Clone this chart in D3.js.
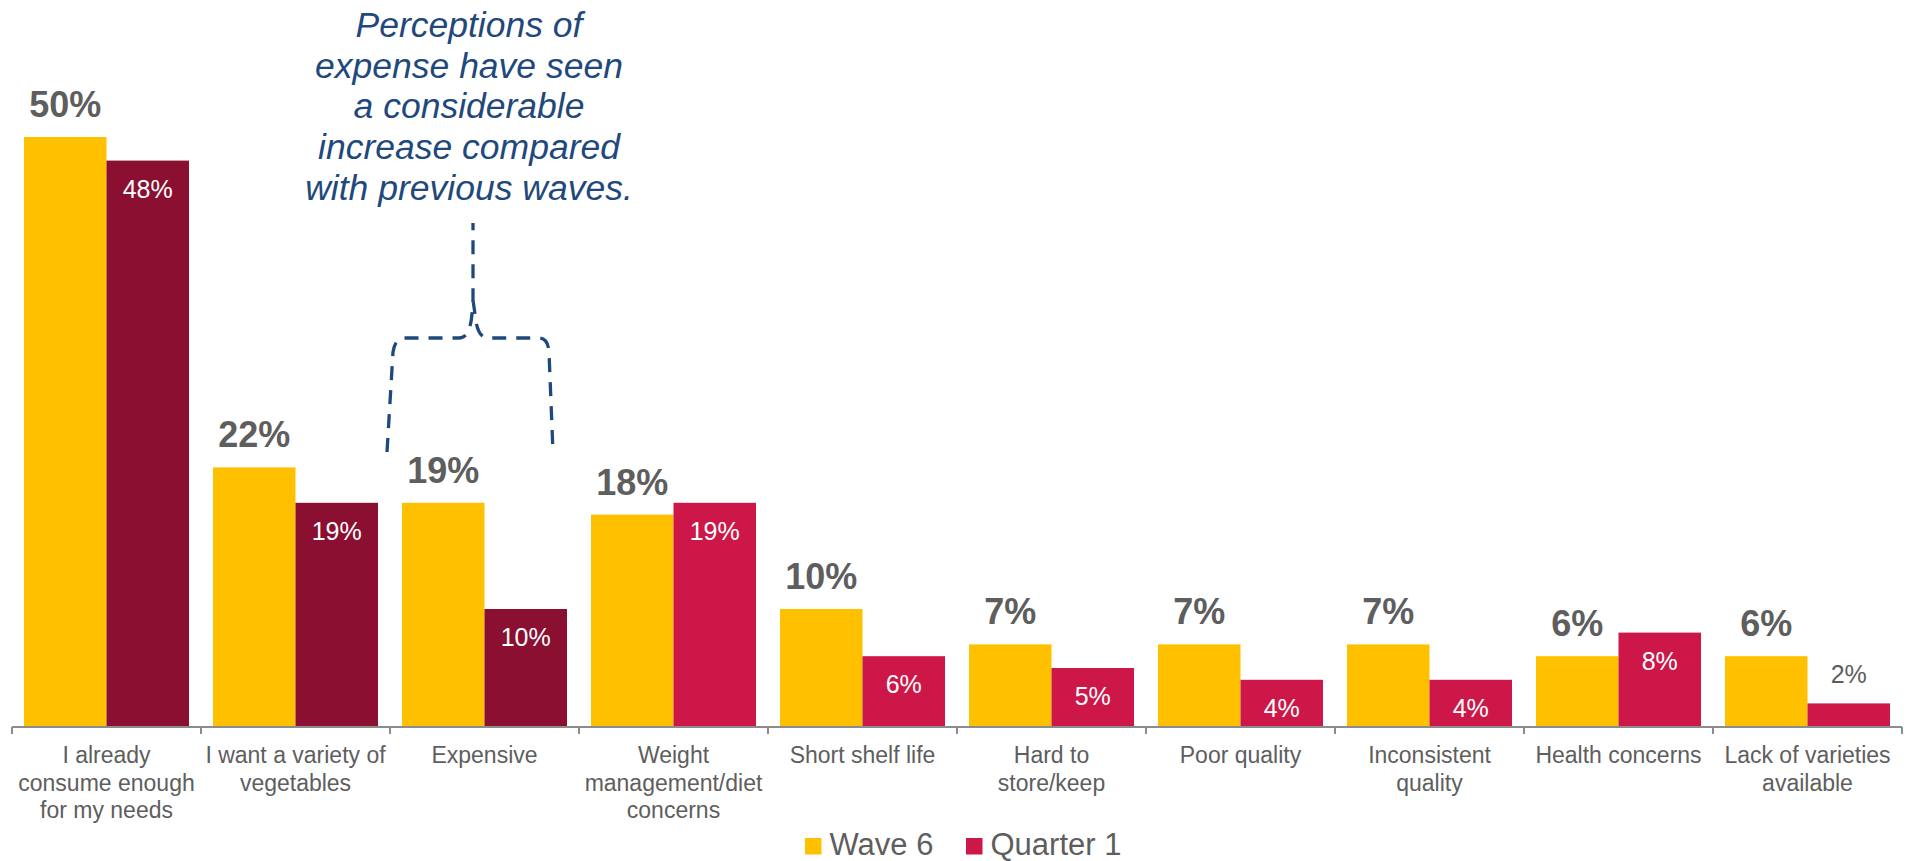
<!DOCTYPE html>
<html>
<head>
<meta charset="utf-8">
<script src="https://cdn.jsdelivr.net/npm/d3@7"></script>
<style>
  html, body { margin: 0; padding: 0; background: #ffffff; }
  svg { display: block; font-family: "Liberation Sans", Arial, Helvetica, sans-serif; }
</style>
</head>
<body>
<svg id="chart" width="1910" height="861"></svg>
<script>
// Reasons for not buying more vegetables, two survey waves
const categories = [
  ["I already", "consume enough", "for my needs"],
  ["I want a variety of", "vegetables"],
  ["Expensive"],
  ["Weight", "management/diet", "concerns"],
  ["Short shelf life"],
  ["Hard to", "store/keep"],
  ["Poor quality"],
  ["Inconsistent", "quality"],
  ["Health concerns"],
  ["Lack of varieties", "available"]
];
const seriesNames = ["Wave 6", "Quarter 1"];
const wave6 = [50, 22, 19, 18, 10, 7, 7, 7, 6, 6];
const quarter1 = [48, 19, 10, 19, 6, 5, 4, 4, 8, 2];
// Quarter 1 bars drawn in the darker shade for the first three reasons
const darkQuarterIdx = [0, 1, 2];
const noteLines = [
  "Perceptions of",
  "expense have seen",
  "a considerable",
  "increase compared",
  "with previous waves."
];

const colors = { wave: "#FFC000", q1: "#CC1748", q1dark: "#8A0F30", text: "#5E5E5E", axis: "#8C8C8C", note: "#1F497D" };

const svg = d3.select("#chart");
const keys = categories.map((c, i) => i);

const x0 = d3.scaleBand()
  .domain(keys)
  .range([12, 1902])
  .paddingInner(24 / 189)
  .paddingOuter(12 / 189);

const x1 = d3.scaleBand()
  .domain([0, 1])
  .range([0, x0.bandwidth()]);

const y = d3.scaleLinear().domain([0, 50]).range([727, 137]);

const rows = keys.map(i => ({ i, vals: [wave6[i], quarter1[i]] }));

const groups = svg.append("g").selectAll("g")
  .data(rows).join("g")
  .attr("transform", d => `translate(${x0(d.i)},0)`);

groups.selectAll("rect")
  .data(d => d.vals.map((v, s) => ({ v, s, i: d.i })))
  .join("rect")
  .attr("x", d => x1(d.s))
  .attr("y", d => y(d.v))
  .attr("width", x1.bandwidth())
  .attr("height", d => y(0) - y(d.v))
  .attr("fill", d => d.s === 0 ? colors.wave : (darkQuarterIdx.includes(d.i) ? colors.q1dark : colors.q1));

// Wave 6 labels: bold, above the bars
groups.append("text")
  .attr("x", x1(0) + x1.bandwidth() / 2)
  .attr("y", d => y(d.vals[0]) - 20)
  .attr("text-anchor", "middle")
  .attr("font-size", 36)
  .attr("font-weight", "bold")
  .attr("fill", colors.text)
  .text(d => d.vals[0] + "%");

// Quarter 1 labels: inside the bar, or above it when the bar is too short
groups.append("text")
  .attr("x", x1(1) + x1.bandwidth() / 2)
  .attr("y", d => {
    const h = y(0) - y(d.vals[1]);
    return h > 45 ? y(d.vals[1]) + 37 : y(d.vals[1]) - 20;
  })
  .attr("text-anchor", "middle")
  .attr("font-size", 25)
  .attr("fill", d => (y(0) - y(d.vals[1]) > 45) ? "#ffffff" : colors.text)
  .text(d => d.vals[1] + "%");

// Category axis
const axisG = svg.append("g");
const [r0, r1] = x0.range();
axisG.append("line")
  .attr("x1", r0).attr("x2", r1)
  .attr("y1", y(0)).attr("y2", y(0))
  .attr("stroke", colors.axis).attr("stroke-width", 2);
const bounds = d3.range(keys.length + 1).map(k => r0 + k * x0.step());
axisG.selectAll("line.tick")
  .data(bounds).join("line")
  .attr("class", "tick")
  .attr("x1", d => d).attr("x2", d => d)
  .attr("y1", y(0)).attr("y2", y(0) + 7)
  .attr("stroke", colors.axis).attr("stroke-width", 2);

const catLabels = svg.append("g").selectAll("text")
  .data(rows).join("text")
  .attr("x", d => x0(d.i) + x0.bandwidth() / 2)
  .attr("y", 763)
  .attr("text-anchor", "middle")
  .attr("font-size", 23)
  .attr("fill", colors.text);
catLabels.selectAll("tspan")
  .data(d => categories[d.i].map((t, k) => ({ t, k, cx: x0(d.i) + x0.bandwidth() / 2 })))
  .join("tspan")
  .attr("x", d => d.cx)
  .attr("dy", d => d.k === 0 ? 0 : 27.5)
  .text(d => d.t);

// Legend
const legend = svg.append("g").attr("transform", "translate(805,838)");
const legendX = [0, 161];
const legendItems = legend.selectAll("g")
  .data(seriesNames).join("g")
  .attr("transform", (d, k) => `translate(${legendX[k]},0)`);
legendItems.append("rect")
  .attr("width", 16.5).attr("height", 16.5)
  .attr("fill", (d, k) => k === 0 ? colors.wave : colors.q1);
legendItems.append("text")
  .attr("x", 24.5).attr("y", 17)
  .attr("font-size", 31)
  .attr("fill", colors.text)
  .text(d => d);

// Callout note over the "Expensive" group
const noteX = 469;
svg.append("g").selectAll("text")
  .data(noteLines).join("text")
  .attr("x", noteX)
  .attr("y", (d, k) => 37 + k * 40.7)
  .attr("text-anchor", "middle")
  .attr("font-size", 35.5)
  .attr("font-style", "italic")
  .attr("fill", colors.note)
  .text(d => d);

// Dashed brace spanning the Expensive bars
const gx = x0(2);
const bw = x0.bandwidth();
const braceLeft = gx - 15, braceRight = gx + bw - 14;
const braceTop = 338, braceBottom = 452, tip = 300, stemTop = 223, cx = 473;
const brace = d3.path();
brace.moveTo(braceLeft, braceBottom);
brace.lineTo(braceLeft + 6, braceTop + 14);
brace.quadraticCurveTo(braceLeft + 8, braceTop, braceLeft + 18, braceTop);
brace.lineTo(cx - 14, braceTop);
brace.quadraticCurveTo(cx - 3, braceTop, cx - 1, tip + 14);
brace.lineTo(cx, tip);
brace.lineTo(cx, stemTop);
brace.moveTo(cx, tip);
brace.lineTo(cx + 2, tip + 14);
brace.quadraticCurveTo(cx + 4, braceTop, cx + 15, braceTop);
brace.lineTo(braceRight - 14, braceTop);
brace.quadraticCurveTo(braceRight - 5, braceTop, braceRight - 4, braceTop + 14);
brace.lineTo(braceRight, braceBottom);

svg.append("path")
  .attr("d", brace.toString())
  .attr("fill", "none")
  .attr("stroke", colors.note)
  .attr("stroke-width", 3.3)
  .attr("stroke-dasharray", "14 10");
</script>
</body>
</html>
